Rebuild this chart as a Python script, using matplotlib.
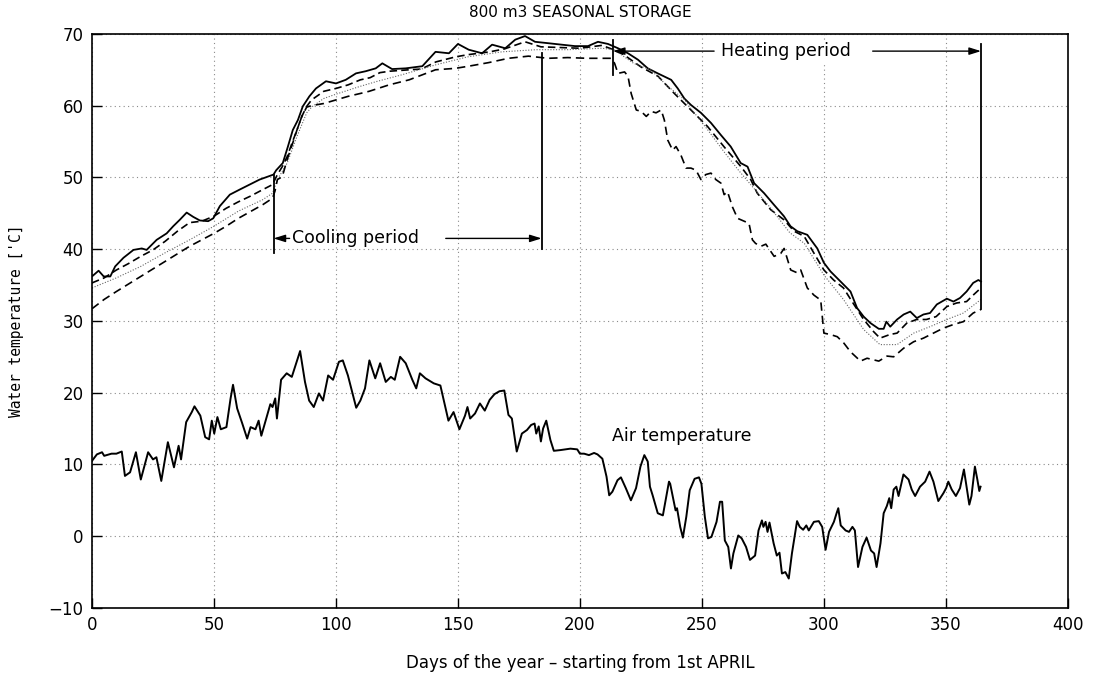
import matplotlib
matplotlib.use("Agg")
import matplotlib.pyplot as plt

# ---------------- data ----------------
top_days = [0, 2.7, 4.8, 7.5, 9.5, 12.9, 17, 20.4, 22.4, 26.5, 30.6, 33.3, 36, 38.8, 41.5, 44.2,
            47.6, 49.7, 52.4, 56.5, 60.5, 64.6, 68.7, 72.8, 74.4, 75.5, 78.2, 80.3, 82.3, 84.4,
            86.4, 89.1, 91.8, 95.9, 100, 104, 108.2, 112.2, 116.3, 119, 123, 128.6, 135.4, 140.8,
            146.3, 150, 154.4, 159.9, 164, 169.4, 173.5, 177.5, 181.6, 187.1, 192.5, 198, 203.3,
            207.4, 211.5, 215.6, 219.7, 223.8, 227.8, 231.9, 237.4, 240.1, 242.8, 245.5, 249.6,
            253.7, 257.8, 261.8, 265.9, 268.7, 271.4, 275.5, 279.5, 283.6, 286.3, 289.1, 293.2,
            297.3, 300, 302.7, 306.8, 310.9, 313.6, 316.3, 319.1, 322.5, 324.5, 325.6, 327.2, 330,
            332.7, 335.4, 338.1, 340.8, 343.5, 346.3, 350.4, 353.1, 355.8, 358.5, 361.2, 363.3, 364.4]
top_temp = [36.2, 37.0, 36.2, 36.2, 37.6, 38.8, 39.9, 40.1, 39.9, 41.3, 42.2, 43.2, 44.1, 45.1, 44.5, 44.0,
            43.9, 44.3, 46.0, 47.6, 48.3, 49.0, 49.7, 50.2, 50.4, 51.0, 52.0, 54.3, 56.6, 58.0,
            59.9, 61.3, 62.4, 63.4, 63.1, 63.6, 64.5, 64.8, 65.2, 65.9, 65.1, 65.2, 65.5, 67.5,
            67.3, 68.6, 67.8, 67.3, 68.5, 68.0, 69.2, 69.7, 68.9, 68.7, 68.5, 68.3, 68.3,
            68.9, 68.6, 68.0, 67.3, 66.4, 65.2, 64.5, 63.6, 62.4, 61.0, 60.1, 59.0,
            57.6, 55.9, 54.3, 52.0, 51.5, 49.2, 47.8, 46.2, 44.6, 43.2, 42.5, 42.0,
            40.1, 38.1, 36.9, 35.5, 34.1, 31.8, 30.6, 29.7, 28.9, 28.9, 29.9, 29.2, 30.2,
            30.9, 31.3, 30.4, 30.9, 31.1, 32.3, 33.1, 32.7, 33.2, 34.1, 35.3, 35.7, 35.5]

upper_days = [0, 5, 10, 15, 20, 25, 30, 35, 40, 45, 50, 55, 60, 65, 70, 74, 76, 78, 80, 82, 84, 86,
              88, 90, 95, 100, 105, 110, 114, 118, 122, 130, 135, 141, 149, 154, 163, 169, 177.5,
              184, 192, 200, 209, 213, 218, 225, 232, 238.7, 245.5, 252.3, 259, 266, 270, 272.7,
              278.2, 283.6, 287.8, 291.9, 296, 300, 304, 308, 312.3, 316.3, 320.4, 323, 327, 330,
              334, 338, 342, 346, 350.4, 354.4, 358.5, 361.2, 364.4]
upper_temp = [35.3, 36.0, 37.1, 38.0, 39.0, 39.9, 41.1, 42.5, 43.7, 43.9, 44.6, 45.7, 46.6, 47.4, 48.3,
              49.0, 50.4, 51.5, 52.9, 54.8, 56.6, 58.5, 59.9, 60.8, 62.0, 62.4, 62.9, 63.6, 63.9,
              64.6, 64.8, 65.0, 65.1, 66.1, 66.8, 67.1, 67.5, 67.9, 68.9, 68.2, 68.1, 68.0, 68.4,
              67.9, 67.1, 65.4, 64.1, 61.7, 59.4, 57.1, 54.3, 51.5, 49.7, 47.8, 45.5, 44.1, 42.5,
              41.8, 39.4, 37.1, 35.7, 34.6, 32.3, 30.2, 28.5, 27.6, 28.1, 28.3, 29.7, 30.2, 30.2,
              30.6, 32.0, 32.5, 32.7, 33.6, 34.6]

mid_days = [0, 10, 20, 30, 40, 50, 60, 70, 74, 76, 80, 84, 88, 90, 95, 100, 110, 117, 127, 141, 154,
            168, 182, 195, 209, 214, 222, 229, 236, 243, 245.5, 252, 259, 265, 270, 278, 286, 292,
            300, 308, 316.3, 323, 330, 336.8, 343.5, 350.4, 357.2, 364.4]
mid_temp = [34.6, 36.0, 37.6, 39.5, 41.3, 43.2, 45.3, 46.9, 47.8, 49.7, 52.0, 55.7, 59.0, 59.8, 61.0,
            61.6, 62.7, 63.4, 64.3, 65.7, 66.8, 67.5, 67.8, 67.8, 68.0, 67.8, 65.9, 65.0, 62.7, 60.8,
            59.6, 56.8, 53.6, 51.0, 49.0, 45.8, 42.3, 40.8, 36.4, 33.0, 28.8, 26.7, 26.7, 28.3,
            29.2, 30.2, 31.1, 33.0]

bottom_days = [0, 5, 10, 20, 30, 40, 50, 55, 60, 70, 74, 75, 76, 78, 80, 82, 84, 86, 88, 90, 95, 100,
               105, 110, 113.6, 121.8, 130, 140.8, 149, 154.4, 162.6, 170.7, 178.9, 187, 195, 203,
               212.9, 214.2, 215.6, 218.3, 219.7, 221, 223.1, 225.1, 227.2, 229.2, 231.2, 233.3,
               234.6, 236, 238, 239.4, 241.4, 243.5, 245.5, 247.6, 249.6, 251.6, 253.7, 255.7,
               257.8, 259.1, 260.5, 262.5, 264.6, 267.3, 269.3, 270.7, 272, 274.2, 276.2, 279.6,
               282.3, 283.7, 286.4, 289.1, 290.5, 293.2, 295.9, 298.7, 300, 302.7, 305.5, 308.2,
               310.9, 315, 317.7, 322.5, 325.9, 328.6, 332.7, 336.8, 340.8, 344.9, 349, 353.1,
               357.2, 361.2, 364.4]
bottom_temp = [31.7, 33.0, 34.1, 36.2, 38.3, 40.4, 42.2, 43.2, 44.3, 46.2, 47.1, 48.1, 49.7, 50.1, 52.5,
               54.5, 56.6, 58.5, 59.8, 60.0, 60.3, 60.8, 61.3, 61.7, 62.0, 62.9, 63.6, 65.0, 65.2,
               65.5, 66.0, 66.6, 66.9, 66.6, 66.7, 66.6, 66.6, 65.9, 64.5, 64.7, 64.1, 61.7, 59.4,
               59.2, 58.5, 59.2, 59.0, 59.4, 58.0, 55.2, 53.8, 54.3, 53.1, 51.3, 51.3, 51.0, 49.7,
               50.4, 50.6, 49.7, 49.2, 47.6, 48.0, 45.9, 44.3, 43.9, 43.6, 41.3, 40.8, 40.4, 40.7,
               39.0, 39.4, 40.1, 37.1, 36.7, 37.1, 34.6, 33.6, 32.9, 28.3, 28.1, 27.8, 26.9, 25.7,
               24.4, 24.8, 24.4, 25.1, 25.0, 26.2, 27.1, 27.6, 28.3, 29.0, 29.5, 29.9, 31.1, 31.6]

air_days = [0, 2, 4.1, 5, 8, 10, 12.2, 13.5, 15.6, 18, 20, 23, 25, 26.4, 28.4, 31.1, 33.6, 35.5, 36.5,
            38.6, 40.9, 42, 44.4, 46.4, 48, 49.1, 50.1, 51.4, 52.8, 55.1, 56.8, 57.8, 59.5, 61.6,
            63.6, 65, 67, 68.3, 69.4, 71, 73.1, 74, 75.1, 75.8, 77.5, 79.8, 81.9, 85.3, 87.3, 89,
            90.9, 93, 94.7, 96.8, 98.8, 101.2, 102.8, 104.9, 108.3, 110, 111.9, 113.7, 116.1,
            118.1, 120.4, 122.5, 124.1, 126.3, 128.6, 131.3, 132.9, 134.4, 136.7, 140.1, 142.8,
            146.1, 148.2, 150.6, 152.9, 153.9, 155, 157, 159, 161, 163, 165, 167, 169, 170.7,
            172.1, 174.1, 176.2, 178.3, 180, 181.4, 182.1, 183.1, 184, 184.9, 186.2, 187.9, 189.3,
            192, 196.1, 198.9, 200, 201.7, 203.7, 205.8, 207.2, 209.2, 210.9, 212, 213.3, 215.4,
            216.8, 218.8, 220.9, 223, 224.8, 226.4, 227.8, 228.7, 229.8, 231.9, 234, 234.9, 236.5,
            237, 239.2, 239.8, 241.1, 242.2, 243.6, 245, 247, 248.8, 249.8, 251.2, 252.5, 253.9,
            256, 257.4, 258.3, 259.4, 260.8, 261.9, 262.9, 264.9, 266.3, 268.1, 269.7, 271.8,
            273.2, 274.6, 275.2, 276.1, 276.9, 277.7, 279.4, 280.7, 281.8, 282.8, 284.2, 285.6,
            286.9, 289, 290.1, 291.5, 292.8, 293.8, 295.9, 297.9, 299.3, 300.7, 302.1, 304.1,
            305.2, 305.9, 306.9, 308.9, 310.3, 311.7, 312.7, 314, 315.8, 317.5, 319.3, 320.6,
            321.6, 323.2, 324.5, 325.8, 326.8, 327.6, 328.6, 329.7, 330.6, 332.6, 334.7, 336,
            337.4, 339.4, 341.5, 343.3, 344.9, 346.9, 349, 350.1, 351, 352.4, 354.1, 355.8,
            357.4, 358.5, 359.6, 360.5, 361.9, 362.9, 363.7, 364.2]
air_temp = [10.5, 11.4, 11.7, 11.2, 11.5, 11.5, 11.8, 8.4, 8.9, 11.7, 7.9, 11.7, 10.7, 11.0, 7.7, 13.1,
            9.6, 12.6, 10.7, 15.9, 17.3, 18.1, 16.8, 13.8, 13.5, 16.1, 14.3, 16.6, 14.9, 15.2, 19.2,
            21.1, 17.8, 15.7, 13.6, 15.2, 14.9, 16.1, 14.0, 15.9, 18.4, 18.0, 19.2, 16.4, 21.8, 22.7,
            22.2, 25.8, 21.5, 18.9, 18.0, 19.9, 18.9, 22.4, 21.8, 24.3, 24.5, 22.4, 17.9, 18.9, 20.6,
            24.5, 22.0, 24.1, 21.5, 22.2, 21.8, 25.0, 24.1, 21.8, 20.6, 22.7, 22.0, 21.3, 21.0,
            16.1, 17.3, 14.9, 16.8, 18.0, 16.4, 17.1, 18.5, 17.5, 19.0, 19.8, 20.2, 20.3, 16.9,
            16.4, 11.8, 14.3, 14.8, 15.5, 15.7, 14.3, 15.3, 13.2, 15.0, 16.1, 13.4, 11.9,
            12.0, 12.2, 12.1, 11.5, 11.5, 11.3, 11.6, 11.4, 10.8, 8.3, 5.7, 6.2, 7.8,
            8.2, 6.7, 5.0, 6.7, 9.7, 11.3, 10.4, 6.9, 5.7, 3.2, 2.9, 4.6, 7.6,
            7.3, 3.6, 3.9, 1.3, -0.2, 2.7, 6.4, 8.0, 8.2, 7.3, 2.7, -0.3, -0.1,
            2.0, 4.8, 4.8, -0.6, -1.5, -4.5, -2.4, 0.1, -0.3, -1.5, -3.3, -2.7,
            0.8, 2.2, 1.3, 2.0, 0.6, 1.9, -1.0, -2.7, -2.3, -5.2, -5.0, -5.9,
            -2.4, 2.1, 1.3, 0.9, 1.5, 0.8, 2.0, 2.1, 1.3, -1.9, 0.6, 2.0,
            3.2, 3.9, 1.5, 0.8, 0.6, 1.3, 0.8, -4.3, -1.5, -0.2, -2.0, -2.4,
            -4.3, -1.0, 3.2, 4.2, 5.3, 3.9, 6.5, 6.9, 5.6, 8.6, 7.9, 6.5,
            5.6, 6.9, 7.6, 9.0, 7.6, 4.9, 6.0, 6.7, 7.6, 6.5, 5.6, 6.7,
            9.3, 6.9, 4.4, 5.6, 9.7, 7.9, 6.3, 6.9]

x_ticks = [0, 50, 100, 150, 200, 250, 300, 350, 400]
y_ticks = [-10, 0, 10, 20, 30, 40, 50, 60, 70]

title = "800 m3 SEASONAL STORAGE"
x_label = "Days of the year \u2013 starting from 1st APRIL"
y_label = "Water temperature ['C]"

# ---------------- figure ----------------
plt.rcParams['font.family'] = ['DejaVu Sans']
fig = plt.figure(figsize=(10.94, 6.74), dpi=100)
ax = fig.add_axes([0.0841, 0.098, 0.892, 0.8517])

ax.plot(top_days, top_temp, color='black', lw=1.3, solid_joinstyle='round')
ax.plot(upper_days, upper_temp, color='black', lw=1.2, linestyle=(0, (4.5, 2.5)))
ax.plot(mid_days, mid_temp, color='#666666', lw=0.8, linestyle=(0, (1, 1.5)))
ax.plot(bottom_days, bottom_temp, color='black', lw=1.2, linestyle=(0, (5, 3)))
ax.plot(air_days, air_temp, color='black', lw=1.4, solid_joinstyle='round')

ax.set_xlim(0, 400)
ax.set_ylim(-10, 70)
ax.set_xticks(x_ticks)
ax.set_yticks(y_ticks)
ax.tick_params(direction='in', length=7, width=1, labelsize=12, pad=6)
ax.grid(True, color='#8a8a8a', linestyle=(0, (1, 3)), lw=0.8)
for s in ax.spines.values():
    s.set_linewidth(1.2)

ax.set_title(title, fontsize=11, pad=12)
ax.set_xlabel(x_label, fontsize=12, labelpad=14)
ax.set_ylabel(y_label, fontsize=10.5, family='DejaVu Sans Mono', labelpad=18)

# ---- period markers ----
vline_kw = dict(color='black', lw=1.3)
ax.plot([74.4, 74.4], [39.5, 50.4], **vline_kw)
ax.plot([184.3, 184.3], [40.0, 67.4], **vline_kw)
ax.plot([213.5, 213.5], [64.3, 69.1], **vline_kw)
ax.plot([364.4, 364.4], [31.6, 68.6], **vline_kw)

arrow_kw = dict(arrowstyle='-|>,head_length=0.7,head_width=0.22', color='black', lw=1.0,
                shrinkA=0, shrinkB=0)
# Cooling period
ax.annotate('', xy=(74.4, 41.5), xytext=(81, 41.5), arrowprops=arrow_kw)
ax.text(82, 41.5, "Cooling period", fontsize=12.5, ha='left', va='center')
ax.annotate('', xy=(184.3, 41.5), xytext=(145, 41.5), arrowprops=arrow_kw)
# Heating period
ax.annotate('', xy=(213.5, 67.6), xytext=(255, 67.6), arrowprops=arrow_kw)
ax.text(258, 67.6, "Heating period", fontsize=12.5, ha='left', va='center',
        bbox=dict(facecolor='white', edgecolor='none', pad=1))
ax.annotate('', xy=(364.4, 67.6), xytext=(320, 67.6), arrowprops=arrow_kw)

ax.text(213.3, 13.9, "Air temperature", fontsize=12.5, ha='left', va='center')

fig.savefig("out.png", dpi=100)
